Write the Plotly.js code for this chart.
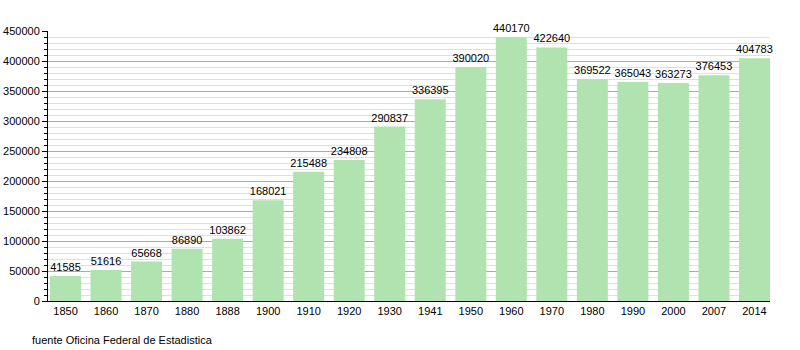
<!DOCTYPE html>
<html><head><meta charset="utf-8">
<script src="https://cdn.plot.ly/plotly-3.0.1.min.js"></script>
<style>body{margin:0;background:#fff}#c{width:800px;height:350px}</style>
</head><body><div id="c"></div>
<script>
const years = ["1850","1860","1870","1880","1888","1900","1910","1920","1930","1941","1950","1960","1970","1980","1990","2000","2007","2014"];
const population = [41585,51616,65668,86890,103862,168021,215488,234808,290837,336395,390020,440170,422640,369522,365043,363273,376453,404783];
const sourceText = "fuente Oficina Federal de Estadistica";

Plotly.newPlot('c', [{
  type: 'bar',
  x: years.map((_, i) => i),
  y: population,
  text: population.map(String),
  textposition: 'outside',
  constraintext: 'none',
  cliponaxis: false,
  textfont: {family: 'Liberation Sans, Arial, sans-serif', size: 11, color: '#000'},
  marker: {color: '#b0e3b0', line: {width: 0}},
  width: 0.765,
  hoverinfo: 'none'
}], {
  width: 800, height: 350,
  margin: {l: 48, r: 30, t: 31, b: 49},
  paper_bgcolor: '#fff', plot_bgcolor: '#fff',
  showlegend: false,
  font: {family: 'Liberation Sans, Arial, sans-serif', size: 11, color: '#000'},
  xaxis: {
    range: [-0.432, 17.383],
    tickvals: years.map((_, i) => i),
    ticktext: years,
    showgrid: false, zeroline: false,
    showline: true, linecolor: '#000', linewidth: 1,
    ticks: '', tickfont: {size: 11}
  },
  yaxis: {
    range: [0, 450000],
    dtick: 50000,
    tickformat: 'd',
    showgrid: true, gridcolor: '#aaaaaa', gridwidth: 1,
    zeroline: false,
    showline: true, linecolor: '#000', linewidth: 1,
    ticks: 'outside', ticklen: 5, tickcolor: '#000',
    tickfont: {size: 11},
    minor: {dtick: 10000, showgrid: true, gridcolor: '#e0e0e0', gridwidth: 1, ticks: 'outside', ticklen: 3, tickcolor: '#000'}
  },
  annotations: [{
    text: sourceText, xref: 'paper', yref: 'paper',
    x: -18/722, y: -39/270, xanchor: 'left', yanchor: 'middle',
    showarrow: false, font: {size: 11, color: '#000'}
  }]
}, {staticPlot: true});
</script></body></html>
